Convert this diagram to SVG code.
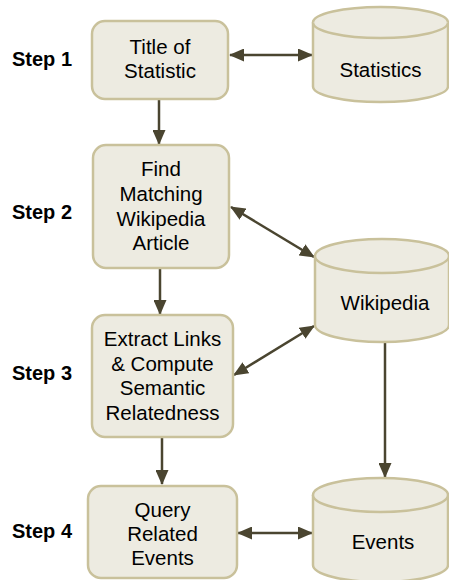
<svg xmlns="http://www.w3.org/2000/svg" width="449" height="580" viewBox="0 0 449 580">
<style>
.box{fill:#EDEBE1;stroke:#C9C19B;stroke-width:2.5}
.cyl{fill:#EDEBE1;stroke:#C9C19B;stroke-width:2.5}
.t{font-family:"Liberation Sans",Arial,sans-serif;font-size:20.5px;fill:#000;text-anchor:middle}
.s{font-family:"Liberation Sans",Arial,sans-serif;font-size:20px;font-weight:bold;fill:#000}
.c{stroke:#4A4530;stroke-width:2.5;fill:none;marker-end:url(#ah)}
.d{marker-start:url(#ah)}
</style>
<defs>
<marker id="ah" viewBox="0 0 15 13" refX="14" refY="6.5" markerWidth="15" markerHeight="13" markerUnits="userSpaceOnUse" orient="auto-start-reverse">
<path d="M0,0 L15,6.5 L0,13 z" fill="#4A4530"/>
</marker>
</defs>
<rect width="449" height="580" fill="#fff"/>
<g id="labels">
<text class="s" x="12" y="66">Step 1</text>
<text class="s" x="12" y="219">Step 2</text>
<text class="s" x="12" y="380">Step 3</text>
<text class="s" x="12" y="538">Step 4</text>
</g>
<g id="connectors">
<line class="c d" x1="230" y1="55" x2="312" y2="55"/>
<line class="c" x1="159" y1="99" x2="159" y2="144"/>
<line class="c d" x1="231" y1="207" x2="314" y2="257"/>
<line class="c" x1="160" y1="268" x2="160" y2="314"/>
<line class="c d" x1="314" y1="326" x2="234" y2="375"/>
<line class="c" x1="385" y1="342" x2="385" y2="477"/>
<line class="c" x1="162" y1="437" x2="162" y2="484"/>
<line class="c d" x1="238" y1="533" x2="312" y2="533"/>
</g>
<g id="n1">
<rect class="box" x="92" y="21" width="136" height="78" rx="13"/>
<text class="t" x="160" y="54">Title of</text>
<text class="t" x="160" y="78">Statistic</text>
</g>
<g id="n2">
<rect class="box" x="93" y="145" width="136" height="123" rx="13"/>
<text class="t" x="161" y="176">Find</text>
<text class="t" x="161" y="201">Matching</text>
<text class="t" x="161" y="225.5">Wikipedia</text>
<text class="t" x="161" y="250">Article</text>
</g>
<g id="n3">
<rect class="box" x="92" y="315" width="141" height="122" rx="13"/>
<text class="t" x="162.5" y="346">Extract Links</text>
<text class="t" x="162.5" y="370.5">&amp; Compute</text>
<text class="t" x="162.5" y="395">Semantic</text>
<text class="t" x="162.5" y="419.5">Relatedness</text>
</g>
<g id="n4">
<rect class="box" x="88" y="486" width="149" height="92" rx="13"/>
<text class="t" x="162.5" y="517">Query</text>
<text class="t" x="162.5" y="541">Related</text>
<text class="t" x="162.5" y="565">Events</text>
</g>
<g id="statistics">
<path class="cyl" d="M313,22.5 V86.5 A67.5,15.5 0 0 0 448,86.5 V22.5 A67.5,15.5 0 0 0 313,22.5 Z"/>
<path class="cyl" fill="none" d="M313,22.5 A67.5,15.5 0 0 0 448,22.5"/>
<text class="t" x="380.5" y="77">Statistics</text>
</g>
<g id="wikipedia">
<path class="cyl" d="M315,256 V325 A67,17 0 0 0 449,325 V256 A67,17 0 0 0 315,256 Z"/>
<path class="cyl" d="M315,256 A67,17 0 0 0 449,256"/>
<text class="t" x="385" y="310">Wikipedia</text>
</g>
<g id="events">
<path class="cyl" d="M313,495 V565 A67.5,17 0 0 0 448,565 V495 A67.5,17 0 0 0 313,495 Z"/>
<path class="cyl" d="M313,495 A67.5,17 0 0 0 448,495"/>
<text class="t" x="383" y="549">Events</text>
</g>
</svg>
